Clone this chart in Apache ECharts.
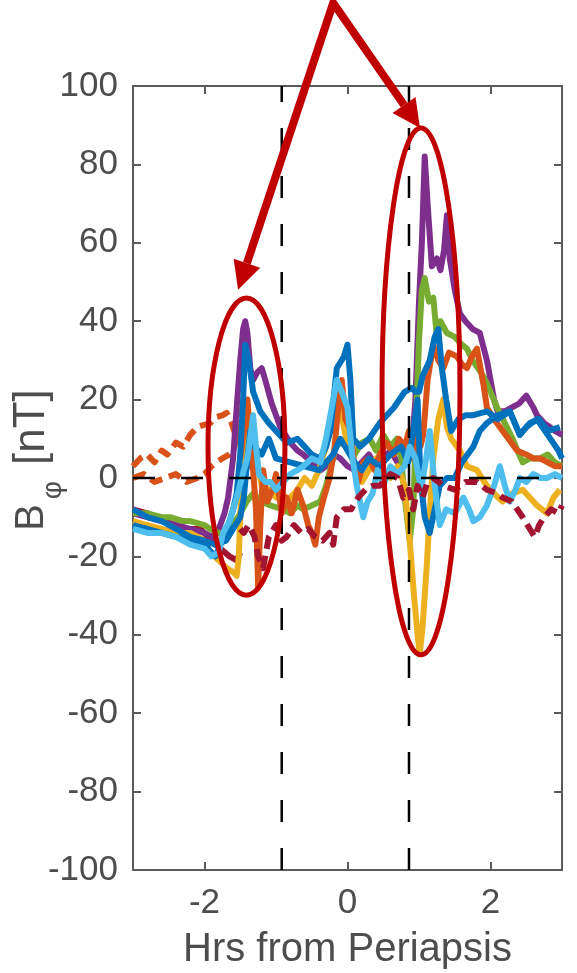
<!DOCTYPE html>
<html>
<head>
<meta charset="utf-8">
<script src="https://cdn.jsdelivr.net/npm/echarts@6/dist/echarts.min.js"></script>
<style>
html,body{margin:0;padding:0;background:#fff;}
#c{width:577px;height:973px;}
</style>
</head>
<body>
<div id="c"></div>
<script>
// ---------------- data (hours from periapsis, B_phi nT) ----------------
const xTickValues = [-2, 0, 2];
const periapsisBounds = [-0.92, 0.86];
const zeroLine = [[-3, 0], [3, 0]];

const purple = [[-3,-9],[-2.8,-10],[-2.6,-11],[-2.4,-12],[-2.2,-13],[-2.0,-14],[-1.9,-15],[-1.8,-13],[-1.72,-9],[-1.67,-5],[-1.6,5],[-1.55,18],[-1.5,30],[-1.46,38],[-1.43,40],[-1.40,37],[-1.36,28],[-1.32,25],[-1.26,27],[-1.2,28],[-1.15,25],[-1.06,19],[-1.0,16],[-0.94,13],[-0.87,11],[-0.8,9],[-0.7,7],[-0.62,6],[-0.5,4],[-0.38,2],[-0.3,3],[-0.2,6],[-0.1,5],[0,3],[0.1,2],[0.2,4],[0.3,6],[0.4,3],[0.5,5],[0.6,7],[0.7,4],[0.8,6],[0.85,10],[0.9,8],[0.95,20],[0.97,30],[1.0,45],[1.04,60],[1.08,82],[1.12,70],[1.18,54],[1.22,55],[1.25,56],[1.3,53],[1.35,58],[1.39,67],[1.43,56],[1.5,48],[1.57,42],[1.65,40],[1.75,38],[1.85,37],[1.95,30],[2.05,20],[2.1,17],[2.2,17],[2.3,18],[2.4,19],[2.5,21],[2.6,18],[2.65,16],[2.75,14],[2.83,13],[2.9,12],[3.0,11]];

const green = [[-3,-9],[-2.8,-9],[-2.6,-10],[-2.48,-10],[-2.3,-11],[-2.2,-11],[-2.0,-12],[-1.92,-13],[-1.8,-14],[-1.7,-15],[-1.6,-12],[-1.5,-9],[-1.41,-6],[-1.32,-4],[-1.2,-6],[-1.08,-7],[-0.9,-8],[-0.8,-9],[-0.7,-7],[-0.62,-8],[-0.5,-7],[-0.38,-6],[-0.3,-2],[-0.2,5],[-0.15,10],[-0.1,9],[0,8],[0.1,6],[0.2,9],[0.31,10],[0.4,7],[0.5,11],[0.6,8],[0.69,10],[0.75,5],[0.8,-5],[0.87,-16],[0.92,-8],[0.96,15],[1.0,35],[1.04,48],[1.08,51],[1.14,45],[1.2,46],[1.25,36],[1.3,40],[1.39,37],[1.5,36],[1.6,34],[1.67,33],[1.75,30],[1.9,26],[2.0,22],[2.09,18],[2.2,14],[2.31,10],[2.4,6],[2.45,4],[2.55,5],[2.69,5],[2.8,6],[2.9,4],[3.0,3]];

const yellow = [[-3,-11],[-2.8,-12],[-2.6,-13],[-2.4,-14],[-2.2,-14],[-2.0,-16],[-1.92,-19],[-1.8,-21],[-1.69,-23],[-1.6,-24],[-1.55,-25],[-1.52,-20],[-1.49,-5],[-1.46,7],[-1.42,13],[-1.36,16],[-1.32,12],[-1.25,3],[-1.2,-2],[-1.1,-3],[-1.0,-5],[-0.9,-4],[-0.85,-6],[-0.7,-3],[-0.6,0],[-0.5,-2],[-0.4,2],[-0.3,8],[-0.2,15],[-0.15,22],[-0.1,18],[0,8],[0.1,3],[0.2,-1],[0.3,2],[0.4,5],[0.5,2],[0.6,0],[0.7,3],[0.8,-2],[0.87,-16],[0.93,-30],[0.98,-40],[1.01,-45],[1.05,-38],[1.11,-22],[1.15,-9],[1.2,5],[1.27,15],[1.34,20],[1.39,13],[1.45,10],[1.57,7],[1.67,3],[1.81,2],[1.95,-2],[2.05,-4],[2.17,-6],[2.3,-4],[2.45,-3],[2.55,-5],[2.65,-7],[2.79,-9],[2.88,-5],[2.97,-3]];

const orange = [[-1.5,5],[-1.45,12],[-1.4,20],[-1.36,10],[-1.32,2],[-1.28,-8],[-1.25,-28],[-1.22,-12],[-1.18,2],[-1.12,-6],[-1.05,-3],[-1.0,1],[-0.92,-9],[-0.85,-5],[-0.78,-9],[-0.7,-3],[-0.62,-7],[-0.55,-12],[-0.5,-14],[-0.45,-17],[-0.4,-10],[-0.33,-5],[-0.25,0],[-0.18,8],[-0.12,20],[-0.08,25],[-0.03,15],[0.05,12],[0.1,2],[0.15,-1],[0.22,4],[0.3,5],[0.38,2],[0.45,6],[0.55,9],[0.65,6],[0.72,10],[0.8,8],[0.86,12],[0.92,5],[0.98,15],[1.02,8],[1.06,11],[1.12,25],[1.2,34],[1.27,30],[1.34,28],[1.42,32],[1.53,31],[1.6,29],[1.67,28],[1.74,31],[1.81,33],[1.86,28],[1.9,24],[1.95,18],[2.05,15],[2.13,13],[2.25,10],[2.37,7],[2.5,6],[2.6,5],[2.69,5],[2.8,4],[2.9,3],[3.0,3]];

const orangeDashUpper = [[-3,3],[-2.9,5],[-2.8,6],[-2.7,4],[-2.6,7],[-2.52,6],[-2.4,9],[-2.3,8],[-2.2,11],[-2.1,13],[-2.02,13.5],[-1.92,14],[-1.83,15.6],[-1.75,16],[-1.69,16.6],[-1.62,14],[-1.55,10],[-1.5,15],[-1.45,20],[-1.4,12]];

const orangeDashLower = [[-3,0],[-2.85,1],[-2.7,-1],[-2.55,0],[-2.4,1],[-2.25,-1],[-2.1,0],[-2.0,1],[-1.9,3],[-1.83,4],[-1.75,5],[-1.65,6],[-1.58,8],[-1.52,14],[-1.46,8],[-1.4,2]];

const lightBlue = [[-3,-13],[-2.8,-14],[-2.6,-14],[-2.4,-15],[-2.2,-17],[-2.0,-18],[-1.9,-20],[-1.8,-19],[-1.74,-14],[-1.65,-11],[-1.55,-5],[-1.45,2],[-1.4,5],[-1.36,10],[-1.32,16],[-1.28,8],[-1.24,1],[-1.15,-1],[-1.08,-1],[-1.0,-3],[-0.9,-1],[-0.8,1],[-0.7,2],[-0.62,3],[-0.5,5],[-0.38,4],[-0.3,10],[-0.2,20],[-0.15,25],[-0.08,22],[0,18],[0.07,5],[0.13,-2],[0.22,-10],[0.28,-6],[0.35,-4],[0.42,2],[0.5,-2],[0.6,3],[0.7,1],[0.8,3],[0.87,8],[0.95,5],[1.03,-3],[1.1,5],[1.15,12],[1.22,-2],[1.29,-12],[1.38,-8],[1.5,-9],[1.62,-5],[1.7,-8],[1.76,-11],[1.85,-10],[1.95,-7],[2.05,-2],[2.13,3],[2.2,-2],[2.27,-6],[2.35,-3],[2.41,0],[2.5,-1],[2.6,1],[2.7,0],[2.79,0],[2.9,1],[3.0,0]];

const blue = [[-3,-12],[-2.8,-13],[-2.6,-14],[-2.4,-15],[-2.2,-16],[-2.0,-17],[-1.9,-19],[-1.85,-20],[-1.8,-18],[-1.7,-14],[-1.6,-8],[-1.55,-4],[-1.5,6],[-1.46,20],[-1.43,34],[-1.38,30],[-1.32,22],[-1.22,17],[-1.1,14],[-1.0,12],[-0.85,9],[-0.7,10],[-0.6,8],[-0.5,6],[-0.38,5],[-0.3,8],[-0.24,12],[-0.15,28],[-0.05,31],[0,34],[0.04,25],[0.08,10],[0.18,8],[0.3,10],[0.45,14],[0.55,16],[0.65,18],[0.8,22],[0.9,23],[0.95,22],[1.0,22],[1.05,26],[1.1,28],[1.15,30],[1.22,36],[1.27,38],[1.32,28],[1.38,20],[1.45,12],[1.55,15],[1.65,16],[1.75,16],[1.95,17],[2.1,15],[2.27,17],[2.41,11],[2.55,14],[2.68,15],[2.8,12],[2.97,13]];

const blue2 = [[-3,-8],[-2.8,-10],[-2.6,-11],[-2.4,-13],[-2.2,-15],[-2.0,-16],[-1.85,-17],[-1.7,-16],[-1.6,-13],[-1.5,-10],[-1.45,-5],[-1.4,5],[-1.36,12],[-1.3,8],[-1.2,6],[-1.1,10],[-1.0,5],[-0.8,4],[-0.6,3],[-0.4,2],[-0.2,6],[-0.1,10],[0,7],[0.1,4],[0.2,2],[0.3,5],[0.45,3],[0.6,6],[0.75,8],[0.85,4],[0.92,12],[0.98,20],[1.02,0],[1.08,-10],[1.15,-14],[1.22,-8],[1.29,-2],[1.39,0],[1.5,0],[1.6,4],[1.76,8],[1.85,12],[1.95,14],[2.1,16],[2.27,17],[2.41,11],[2.5,13],[2.65,15],[2.8,11],[2.95,7],[3.0,5]];

const darkRed = [[-3,-8],[-2.8,-9],[-2.58,-11],[-2.4,-12],[-2.24,-13],[-2.06,-13],[-1.9,-16],[-1.78,-18],[-1.65,-20],[-1.55,-21],[-1.5,-19]];

const darkRedDash = [[-1.5,-13],[-1.45,-14],[-1.38,-12],[-1.3,-15],[-1.25,-20],[-1.18,-23],[-1.1,-15],[-1.0,-12],[-0.92,-16],[-0.85,-15],[-0.75,-12],[-0.65,-14],[-0.55,-13],[-0.45,-15],[-0.35,-16],[-0.25,-14],[-0.2,-17],[-0.15,-10],[-0.05,-8],[0.05,-8],[0.15,-5],[0.25,-3],[0.35,-2],[0.45,-2],[0.6,1],[0.7,0],[0.78,-5],[0.86,-3],[0.92,-8],[0.98,-2],[1.05,-5],[1.12,-1],[1.2,0],[1.35,-2],[1.5,-3],[1.65,-1],[1.81,-1],[1.95,-3],[2.1,-4],[2.17,-5],[2.3,-6],[2.45,-10],[2.55,-13],[2.62,-15],[2.68,-12],[2.75,-10],[2.85,-8],[2.95,-9],[3.0,-7]];

// annotation anchors (data coordinates)
const arrowApex = [-0.2, 121.2];
const arrowTips = [[-1.53, 48.0], [1.014, 89.3]];
const ellipses = [
  {c: [-1.413, 8.0], rx: 0.538, ry: 37.9},
  {c: [1.028, 22.1], rx: 0.545, ry: 67.2}
];

// ---------------- chart ----------------
const FONT = '"Liberation Sans", Arial, Helvetica, sans-serif';
const AX = '#5a5a5a';
const TXT = '#4d4d4d';
const chart = echarts.init(document.getElementById('c'));

function lineSeries(data, color, dashed, z) {
  return {
    type: 'line', data: data, showSymbol: false, symbol: 'none', z: z || 2,
    lineStyle: {color: color, width: 6, type: dashed ? [13, 7] : 'solid', cap: 'butt', join: 'round'},
    silent: true, animation: false
  };
}
function refSeries(data) {
  return {
    type: 'line', data: data, showSymbol: false, symbol: 'none', z: 5,
    lineStyle: {color: '#000', width: 2.5, type: [22, 26]}, silent: true, animation: false
  };
}

const option = {
  animation: false,
  backgroundColor: '#fff',
  grid: {left: 133, right: 15, top: 86, bottom: 103, containLabel: false, outerBoundsMode: 'none'},
  xAxis: [{
    type: 'value', min: -3, max: 3, position: 'bottom',
    axisLine: {show: true, onZero: false, lineStyle: {color: AX, width: 2}},
    axisTick: {show: true, inside: true, length: 8, customValues: xTickValues, lineStyle: {color: AX, width: 2}},
    axisLabel: {show: true, customValues: xTickValues, fontSize: 35, color: TXT, fontFamily: FONT, margin: 16},
    splitLine: {show: false},
    name: 'Hrs from Periapsis', nameLocation: 'middle', nameGap: 60,
    nameTextStyle: {fontSize: 40, color: TXT, fontFamily: FONT}
  }, {
    type: 'value', min: -3, max: 3, position: 'top',
    axisLine: {show: true, onZero: false, lineStyle: {color: AX, width: 2}},
    axisTick: {show: true, inside: true, length: 8, customValues: xTickValues, lineStyle: {color: AX, width: 2}},
    axisLabel: {show: false}, splitLine: {show: false}
  }],
  yAxis: [{
    type: 'value', min: -100, max: 100, interval: 20, position: 'left',
    axisLine: {show: true, onZero: false, lineStyle: {color: AX, width: 2}},
    axisTick: {show: true, inside: true, length: 8, lineStyle: {color: AX, width: 2}},
    axisLabel: {fontSize: 35, color: TXT, fontFamily: FONT, margin: 15},
    splitLine: {show: false}
  }, {
    type: 'value', min: -100, max: 100, interval: 20, position: 'right',
    axisLine: {show: true, onZero: false, lineStyle: {color: AX, width: 2}},
    axisTick: {show: true, inside: true, length: 8, lineStyle: {color: AX, width: 2}},
    axisLabel: {show: false}, splitLine: {show: false}
  }],
  series: [
    lineSeries(orangeDashUpper, '#D95319', true, 2),
    lineSeries(orangeDashLower, '#D95319', true, 2),
    lineSeries(darkRed, '#A2142F', false, 2),
    lineSeries(purple, '#7E2F8E', false, 2),
    lineSeries(green, '#77AC30', false, 2),
    lineSeries(yellow, '#EDB120', false, 2),
    lineSeries(orange, '#D95319', false, 2),
    lineSeries(blue2, '#0072BD', false, 2),
    lineSeries(blue, '#0072BD', false, 2),
    lineSeries(lightBlue, '#4DBEEE', false, 2),
    lineSeries(darkRedDash, '#A2142F', true, 2),
    refSeries(zeroLine),
    refSeries([[periapsisBounds[0], -100], [periapsisBounds[0], 100]]),
    refSeries([[periapsisBounds[1], -100], [periapsisBounds[1], 100]])
  ]
};
chart.setOption(option);

// ---------------- annotations (ellipses + arrows) + y-axis title ----------------
function px(p) { return chart.convertToPixel({xAxisIndex: 0, yAxisIndex: 0}, p); }
const RED = '#c00000';
const graphics = [];

// y axis title: B_phi [nT], rotated
graphics.push({
  type: 'text', x: 32, y: 460, rotation: Math.PI / 2, z: 50, silent: true,
  style: {
    text: '{b|B}{s|φ}{g|[nT]}',
    align: 'center', verticalAlign: 'middle', fill: TXT, fontFamily: FONT,
    rich: {
      b: {fontSize: 40, fill: TXT, fontFamily: FONT},
      s: {fontSize: 28, fill: TXT, fontFamily: FONT, padding: [42, 12, 0, 5]},
      g: {fontSize: 44, fill: TXT, fontFamily: FONT, padding: [0, 0, 0, 4]}
    }
  }
});

ellipses.forEach(e => {
  const c = px(e.c);
  const r = px([e.c[0] + e.rx, e.c[1] + e.ry]);
  graphics.push({type: 'ellipse', z: 100,
    shape: {cx: c[0], cy: c[1], rx: Math.abs(r[0] - c[0]), ry: Math.abs(c[1] - r[1])},
    style: {fill: null, stroke: RED, lineWidth: 5}});
});
const apex = px(arrowApex);
const headL = 28, headW = 14;
const bases = [];
arrowTips.forEach(t => {
  const tip = px(t);
  const dx = tip[0] - apex[0], dy = tip[1] - apex[1];
  const len = Math.sqrt(dx * dx + dy * dy);
  const ux = dx / len, uy = dy / len;
  const bx = tip[0] - ux * headL, by = tip[1] - uy * headL;
  bases.push([bx, by]);
  graphics.push({type: 'polygon', z: 101,
    shape: {points: [tip, [bx - uy * headW, by + ux * headW], [bx + uy * headW, by - ux * headW]]},
    style: {fill: RED, stroke: null}});
});
graphics.push({type: 'polyline', z: 101,
  shape: {points: [bases[0], apex, bases[1]]},
  style: {stroke: RED, lineWidth: 8, fill: null, lineJoin: 'miter', miterLimit: 10}});
chart.setOption({graphic: graphics});
</script>
</body>
</html>
